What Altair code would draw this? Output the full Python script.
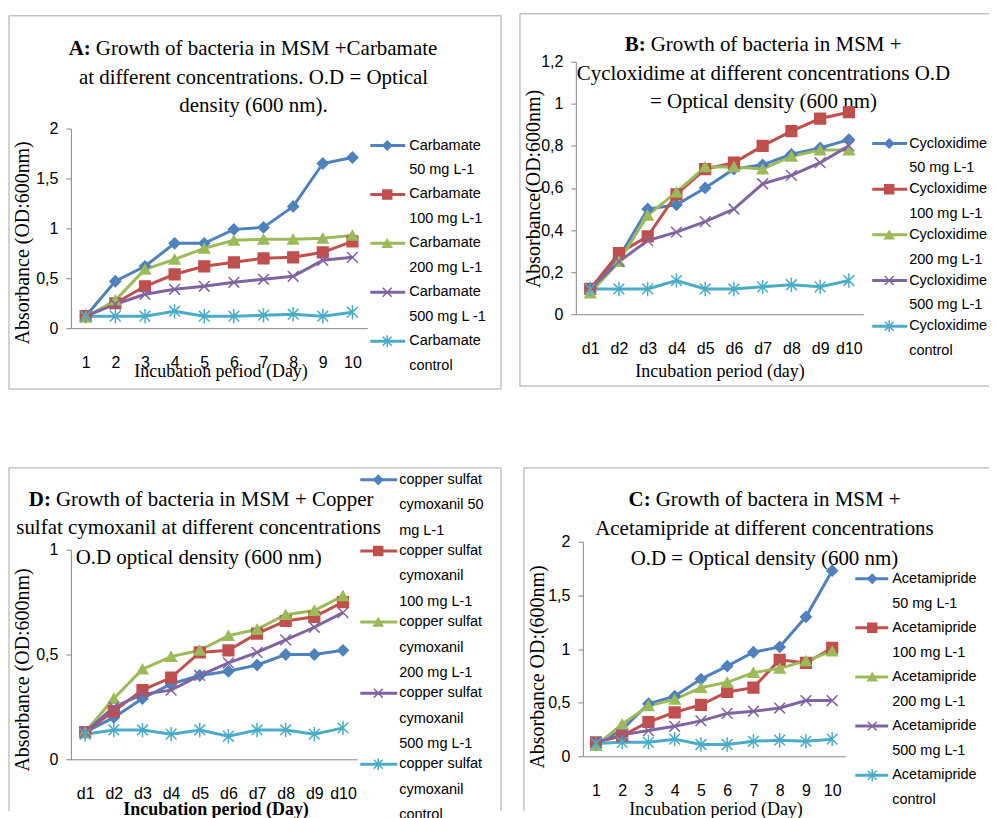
import altair as alt
import pandas as pd

SERIF = "Liberation Serif"
SANS = "Liberation Sans"
AXIS_GRAY = "#868686"
BORDER = "#A6A6A6"

SERIES = ["50", "100", "200", "500", "control"]
COLORS = ["#4F81BD", "#C0504D", "#9BBB59", "#8064A2", "#4BACC6"]
SHAPES = ["diamond", "square", "triangle-up",
          "M-1,-1L1,1M-1,1L1,-1",
          "M-1,-1L1,1M-1,1L1,-1M0,-1.35L0,1.35"]

DAYS_NUM = ["1", "2", "3", "4", "5", "6", "7", "8", "9", "10"]
DAYS_D = ["d1", "d2", "d3", "d4", "d5", "d6", "d7", "d8", "d9", "d10"]

# Panel A: Carbamate
A_50 = [0.12, 0.47, 0.62, 0.85, 0.85, 0.99, 1.01, 1.22, 1.65, 1.71]
A_100 = [0.12, 0.25, 0.42, 0.54, 0.62, 0.66, 0.70, 0.71, 0.76, 0.87]
A_200 = [0.11, 0.28, 0.59, 0.69, 0.80, 0.88, 0.89, 0.89, 0.90, 0.93]
A_500 = [0.12, 0.24, 0.34, 0.39, 0.42, 0.46, 0.49, 0.52, 0.68, 0.71]
A_CTL = [0.12, 0.12, 0.12, 0.17, 0.12, 0.12, 0.13, 0.14, 0.12, 0.16]
A_LABELS = ["Carbamate\n50 mg L-1", "Carbamate\n100 mg L-1", "Carbamate\n200 mg L-1",
            "Carbamate\n500 mg L -1", "Carbamate\ncontrol"]

# Panel B: Cycloxidime
B_50 = [0.12, 0.27, 0.50, 0.52, 0.60, 0.69, 0.71, 0.76, 0.79, 0.83]
B_100 = [0.12, 0.29, 0.37, 0.57, 0.69, 0.72, 0.80, 0.87, 0.93, 0.96]
B_200 = [0.10, 0.25, 0.47, 0.58, 0.70, 0.70, 0.69, 0.75, 0.78, 0.78]
B_500 = [0.12, 0.25, 0.35, 0.39, 0.44, 0.50, 0.62, 0.66, 0.72, 0.80]
B_CTL = [0.12, 0.12, 0.12, 0.16, 0.12, 0.12, 0.13, 0.14, 0.13, 0.16]
B_LABELS = ["Cycloxidime\n50 mg L-1", "Cycloxidime\n100 mg L-1", "Cycloxidime\n200 mg L-1",
            "Cycloxidime\n500 mg L-1", "Cycloxidime\ncontrol"]

# Panel D: copper sulfat cymoxanil
D_50 = [0.13, 0.20, 0.29, 0.36, 0.40, 0.42, 0.45, 0.50, 0.50, 0.52]
D_100 = [0.13, 0.23, 0.33, 0.39, 0.51, 0.52, 0.60, 0.66, 0.68, 0.75]
D_200 = [0.13, 0.29, 0.43, 0.49, 0.52, 0.59, 0.62, 0.69, 0.71, 0.78]
D_500 = [0.13, 0.25, 0.31, 0.33, 0.40, 0.46, 0.51, 0.57, 0.63, 0.70]
D_CTL = [0.12, 0.14, 0.14, 0.12, 0.14, 0.11, 0.14, 0.14, 0.12, 0.15]
D_LABELS = ["copper sulfat\ncymoxanil 50\nmg L-1", "copper sulfat\ncymoxanil\n100 mg L-1",
            "copper sulfat\ncymoxanil\n200 mg L-1", "copper sulfat\ncymoxanil\n500 mg L-1",
            "copper sulfat\ncymoxanil\ncontrol"]

# Panel C: Acetamipride
C_50 = [0.11, 0.25, 0.49, 0.56, 0.72, 0.84, 0.97, 1.02, 1.30, 1.73]
C_100 = [0.13, 0.19, 0.32, 0.41, 0.48, 0.60, 0.64, 0.90, 0.87, 1.01]
C_200 = [0.10, 0.30, 0.47, 0.53, 0.64, 0.69, 0.78, 0.82, 0.89, 0.98]
C_500 = [0.13, 0.20, 0.24, 0.28, 0.33, 0.40, 0.42, 0.45, 0.52, 0.52]
C_CTL = [0.12, 0.13, 0.13, 0.16, 0.11, 0.11, 0.14, 0.15, 0.14, 0.16]
C_LABELS = ["Acetamipride\n50 mg L-1", "Acetamipride\n100 mg L-1", "Acetamipride\n200 mg L-1",
            "Acetamipride\n500 mg L-1", "Acetamipride\ncontrol"]

A_TITLE = ["A:", "Growth of bacteria in MSM +Carbamate",
           "at different concentrations. O.D = Optical", "density (600 nm)."]
B_TITLE = ["B:", "Growth of bacteria in MSM +",
           "Cycloxidime at different concentrations O.D", "= Optical density (600 nm)"]
D_TITLE = ["D:", "Growth of bacteria in MSM + Copper",
           "sulfat cymoxanil at different concentrations", "O.D optical density (600 nm)"]
C_TITLE = ["C:", "Growth of bactera in MSM +",
           "Acetamipride at different concentrations", "O.D = Optical density (600 nm)"]


def long_df(days, vals):
    rows = []
    for key, arr in zip(SERIES, vals):
        for i, (d, v) in enumerate(zip(days, arr)):
            rows.append({"day": d, "idx": i, "value": v, "key": key})
    return pd.DataFrame(rows)


ONE = pd.DataFrame({"a": [1]})


def hrule(x0, x1, yy):
    return alt.Chart(ONE).mark_rule(color=BORDER, strokeWidth=1).encode(
        x=alt.value(x0), x2=alt.value(x1), y=alt.value(yy))


def vrule(xx, y0, y1):
    return alt.Chart(ONE).mark_rule(color=BORDER, strokeWidth=1).encode(
        x=alt.value(xx), y=alt.value(y0), y2=alt.value(y1))


def ttext(s, xx, yy, align, bold=False):
    return alt.Chart(ONE).mark_text(
        text=s, font=SERIF, fontSize=21, fontWeight="bold" if bold else "normal",
        align=align, baseline="middle", color="black").encode(x=alt.value(xx), y=alt.value(yy))


def panel(days, vals, labels, title, xtitle, ytitle, ymax, yticks, L, xbold=False):
    df = long_df(days, vals)
    color = alt.Color("key:N", scale=alt.Scale(domain=SERIES, range=COLORS), legend=None)
    stroke = alt.Stroke("key:N", scale=alt.Scale(domain=SERIES, range=COLORS), legend=None)
    shape = alt.Shape("key:N", scale=alt.Scale(domain=SERIES, range=SHAPES), legend=None)

    x = alt.X("day:N", sort=days, scale=alt.Scale(type="point", domain=days, padding=0.5),
              axis=alt.Axis(title=xtitle, labelAngle=0, ticks=False, tickSize=0, labelPadding=26,
                            domainColor=AXIS_GRAY, grid=False,
                            labelFont=SANS, labelFontSize=16, labelColor="black",
                            titleFont=SERIF, titleFontSize=18,
                            titleFontWeight="bold" if xbold else "normal", titleColor="black",
                            titleX=L["xtx"], titleY=L["xty"], titleBaseline="middle", titleAlign="center"))
    y = alt.Y("value:Q", scale=alt.Scale(domain=[0, ymax], nice=False, zero=True, range=L["yr"]),
              axis=alt.Axis(orient="left", values=yticks, title=ytitle, grid=False,
                            tickSize=5, tickColor=AXIS_GRAY, domainColor=AXIS_GRAY,
                            labelFont=SANS, labelFontSize=16, labelColor="black", labelPadding=8,
                            labelExpr="replace(format(datum.value, '~g'), '.', ',')",
                            titleFont=SERIF, titleFontSize=20, titleFontWeight="normal", titleColor="black",
                            titleX=L["ytx"], titleY=L["yty"], titleAngle=270,
                            titleBaseline="middle", titleAlign="center"))

    lines = alt.Chart(df).mark_line(strokeWidth=3).encode(x=x, y=y, color=color, order="idx:Q")
    pts = alt.Chart(df).mark_point(filled=True, size=115, strokeWidth=1.5, opacity=1).encode(
        x=x, y=y, color=color, stroke=stroke, shape=shape)
    data_layer = alt.layer(lines, pts)

    ldf = pd.DataFrame({"key": SERIES, "label": labels})
    ly = alt.Y("key:N", scale=alt.Scale(type="point", domain=SERIES, range=[L["r0"], L["r1"]], padding=0),
               axis=None)
    lrule = alt.Chart(ldf).mark_rule(strokeWidth=3).encode(
        x=alt.value(L["lx0"]), x2=alt.value(L["lx1"]), y=ly, color=color)
    lpt = alt.Chart(ldf).mark_point(filled=True, size=80, strokeWidth=1.5, opacity=1).encode(
        x=alt.value(L["mx"]), y=ly, color=color, stroke=stroke, shape=shape)
    ltxt = alt.Chart(ldf).mark_text(align="left", baseline="top", dy=-7, lineBreak="\n", font=SANS,
                                    fontSize=14.5, lineHeight=L["lh"], color="black").encode(
        x=alt.value(L["tx"]), y=ly, text="label:N")
    legend = alt.layer(lrule, lpt, ltxt)

    deco = [hrule(*r) for r in L["hr"]] + [vrule(*r) for r in L["vr"]]
    ty = L["ty"]
    deco += [ttext(title[0], L["p1"], ty[0], "right", True),
             ttext(title[1], L["p1"] + 5, ty[0], "left"),
             ttext(title[2], L["tc"], ty[1], "center"),
             ttext(title[3], L["tc"], ty[2], "center")]

    return alt.layer(*deco, data_layer, legend).resolve_scale(y="independent").properties(
        width=L["w"], height=L["h"])


# Row 1 shares its view origin at page y=60, row 2 at page y=539
LA = dict(w=297, h=267, yr=[267, 67], xtx=150, xty=43, ytx=-48, yty=181,
          r0=84, r1=280, lx0=300, lx1=335, mx=317, tx=339, lh=24.5,
          hr=[(-62, 431, -46), (-62, 431, 328)], vr=[(-62, -46, 328), (431, -46, 328)],
          ty=[-13, 16, 44], p1=20, tc=183)
LB = dict(w=288, h=253, yr=[253, 0], xtx=144, xty=57, ytx=-42, yty=127,
          r0=82, r1=265, lx0=297, lx1=332, mx=314, tx=334, lh=25,
          hr=[(-56, 414, -48), (-56, 414, 325)], vr=[(-56, -48, 325)],
          ty=[-17, 12, 40], p1=70, tc=188)
LD = dict(w=287, h=218, yr=[218, 8], xtx=145, xty=50, ytx=-48, yty=128,
          r0=-62, r1=223, lx0=290, lx1=327, mx=308, tx=329, lh=25.5,
          hr=[(-62, 431, -74)], vr=[(-62, -74, 270), (431, -74, 270)],
          ty=[-42, -14, 16], p1=-20, tc=128)
LC = dict(w=263, h=215, yr=[215, 0], xtx=133, xty=53, ytx=-45, yty=125,
          r0=37, r1=234, lx0=273, lx1=306, mx=290, tx=310, lh=25,
          hr=[(-59, 407, -74)], vr=[(-59, -74, 270)],
          ty=[-42, -13, 17], p1=68, tc=182)

pA = panel(DAYS_NUM, [A_50, A_100, A_200, A_500, A_CTL], A_LABELS, A_TITLE,
           "Incubation period (Day)", "Absorbance (OD:600nm)", 2, [0, 0.5, 1, 1.5, 2], LA)
pB = panel(DAYS_D, [B_50, B_100, B_200, B_500, B_CTL], B_LABELS, B_TITLE,
           "Incubation period (day)", "Absorbance(OD:600nm)", 1.2, [0, 0.2, 0.4, 0.6, 0.8, 1, 1.2], LB)
pD = panel(DAYS_D, [D_50, D_100, D_200, D_500, D_CTL], D_LABELS, D_TITLE,
           "Incubation period (Day)", "Absorbance (OD:600nm)", 1, [0, 0.5, 1], LD, xbold=True)
pC = panel(DAYS_NUM, [C_50, C_100, C_200, C_500, C_CTL], C_LABELS, C_TITLE,
           "Incubation period (Day)", "Absorbance OD:(600nm)", 2, [0, 0.5, 1, 1.5, 2], LC)

chart = alt.vconcat(
    alt.hconcat(pA, pB, spacing=17),
    alt.hconcat(pD, pC, spacing=21),
    spacing=77,
).properties(
    padding={"left": 0, "top": 4, "right": 0, "bottom": 0},
    background="white",
).configure_view(strokeWidth=0)

chart.save("out.html", embed_options={"renderer": "svg", "actions": False})
